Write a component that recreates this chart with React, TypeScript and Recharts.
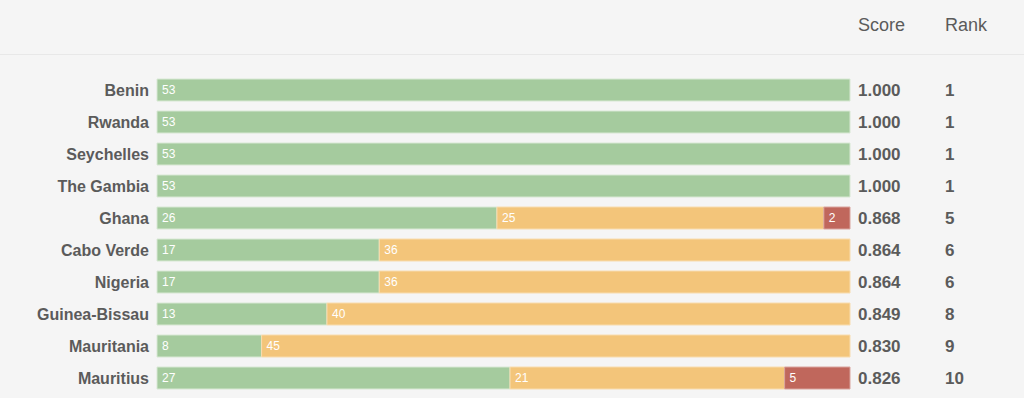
import React from "react";
import { BarChart, Bar, XAxis, YAxis, LabelList } from "recharts";

const countries = ["Benin", "Rwanda", "Seychelles", "The Gambia", "Ghana", "Cabo Verde", "Nigeria", "Guinea-Bissau", "Mauritania", "Mauritius"];
const greenVals = [53, 53, 53, 53, 26, 17, 17, 13, 8, 27];
const orangeVals = [0, 0, 0, 0, 25, 36, 36, 40, 45, 21];
const redVals = [0, 0, 0, 0, 2, 0, 0, 0, 0, 5];
const scores = ["1.000", "1.000", "1.000", "1.000", "0.868", "0.864", "0.864", "0.849", "0.830", "0.826"];
const ranks = ["1", "1", "1", "1", "5", "6", "6", "8", "9", "10"];

const data = countries.map((name, i) => ({
  name,
  green: greenVals[i],
  orange: orangeVals[i],
  red: redVals[i],
  score: scores[i],
  rank: ranks[i],
}));

const FONT = "'Liberation Sans', Arial, Helvetica, sans-serif";
const TEXT = "#5b5b5b";

const fmt = (v: any) => (v ? String(v) : "");

const LeftTick = (props: any) => {
  const { x, y, payload } = props;
  return (
    <text x={x} y={y} dy={5.5} textAnchor="end" fontFamily={FONT} fontWeight="bold" fontSize={16} fill={TEXT}>
      {payload.value}
    </text>
  );
};

const RightTick = (props: any) => {
  const { x, y, payload } = props;
  const row = data.find((d) => d.name === payload.value);
  return (
    <g>
      <text x={x} y={y} dy={6} textAnchor="start" fontFamily={FONT} fontWeight="bold" fontSize={17} fill={TEXT}>
        {row ? row.score : ""}
      </text>
      <text x={x + 87} y={y} dy={6} textAnchor="start" fontFamily={FONT} fontWeight="bold" fontSize={17} fill={TEXT}>
        {row ? row.rank : ""}
      </text>
    </g>
  );
};

export default function App() {
  return (
    <div style={{ position: "relative", width: 1024, height: 398, background: "#f5f5f5", overflow: "hidden" }}>
      <style>{`body{margin:0;background:#f5f5f5;}`}</style>
      <div style={{ position: "absolute", left: 0, top: 54, width: 1024, height: 1, background: "#e8e8e8" }} />
      <div style={{ position: "absolute", left: 858, top: 15, fontFamily: FONT, fontSize: 18, color: TEXT }}>Score</div>
      <div style={{ position: "absolute", left: 945, top: 15, fontFamily: FONT, fontSize: 18, color: TEXT }}>Rank</div>
      <BarChart
        width={1024}
        height={398}
        data={data}
        layout="vertical"
        margin={{ top: 74, right: 0, bottom: 4, left: 0 }}
        barSize={22}
        style={{ position: "absolute", left: 0, top: 0 }}
      >
        <XAxis type="number" domain={[0, 53]} hide />
        <YAxis yAxisId="left" type="category" dataKey="name" width={157} axisLine={false} tickLine={false} tick={<LeftTick />} />
        <YAxis yAxisId="right" orientation="right" type="category" dataKey="name" width={174} axisLine={false} tickLine={false} tick={<RightTick />} />
        <Bar dataKey="green" stackId="a" yAxisId="left" fill="#a5cb9e" stroke="#d8e8d4" strokeWidth={1} isAnimationActive={false}>
          <LabelList dataKey="green" position="insideLeft" offset={5} formatter={fmt} fill="#ffffff" fontSize={12} fontFamily={FONT} />
        </Bar>
        <Bar dataKey="orange" stackId="a" yAxisId="left" fill="#f3c57a" stroke="#f8dcae" strokeWidth={1} isAnimationActive={false}>
          <LabelList dataKey="orange" position="insideLeft" offset={5} formatter={fmt} fill="#ffffff" fontSize={12} fontFamily={FONT} />
        </Bar>
        <Bar dataKey="red" stackId="a" yAxisId="left" fill="#c0675c" stroke="#d9a49d" strokeWidth={1} isAnimationActive={false}>
          <LabelList dataKey="red" position="insideLeft" offset={5} formatter={fmt} fill="#ffffff" fontSize={12} fontFamily={FONT} />
        </Bar>
      </BarChart>
    </div>
  );
}
